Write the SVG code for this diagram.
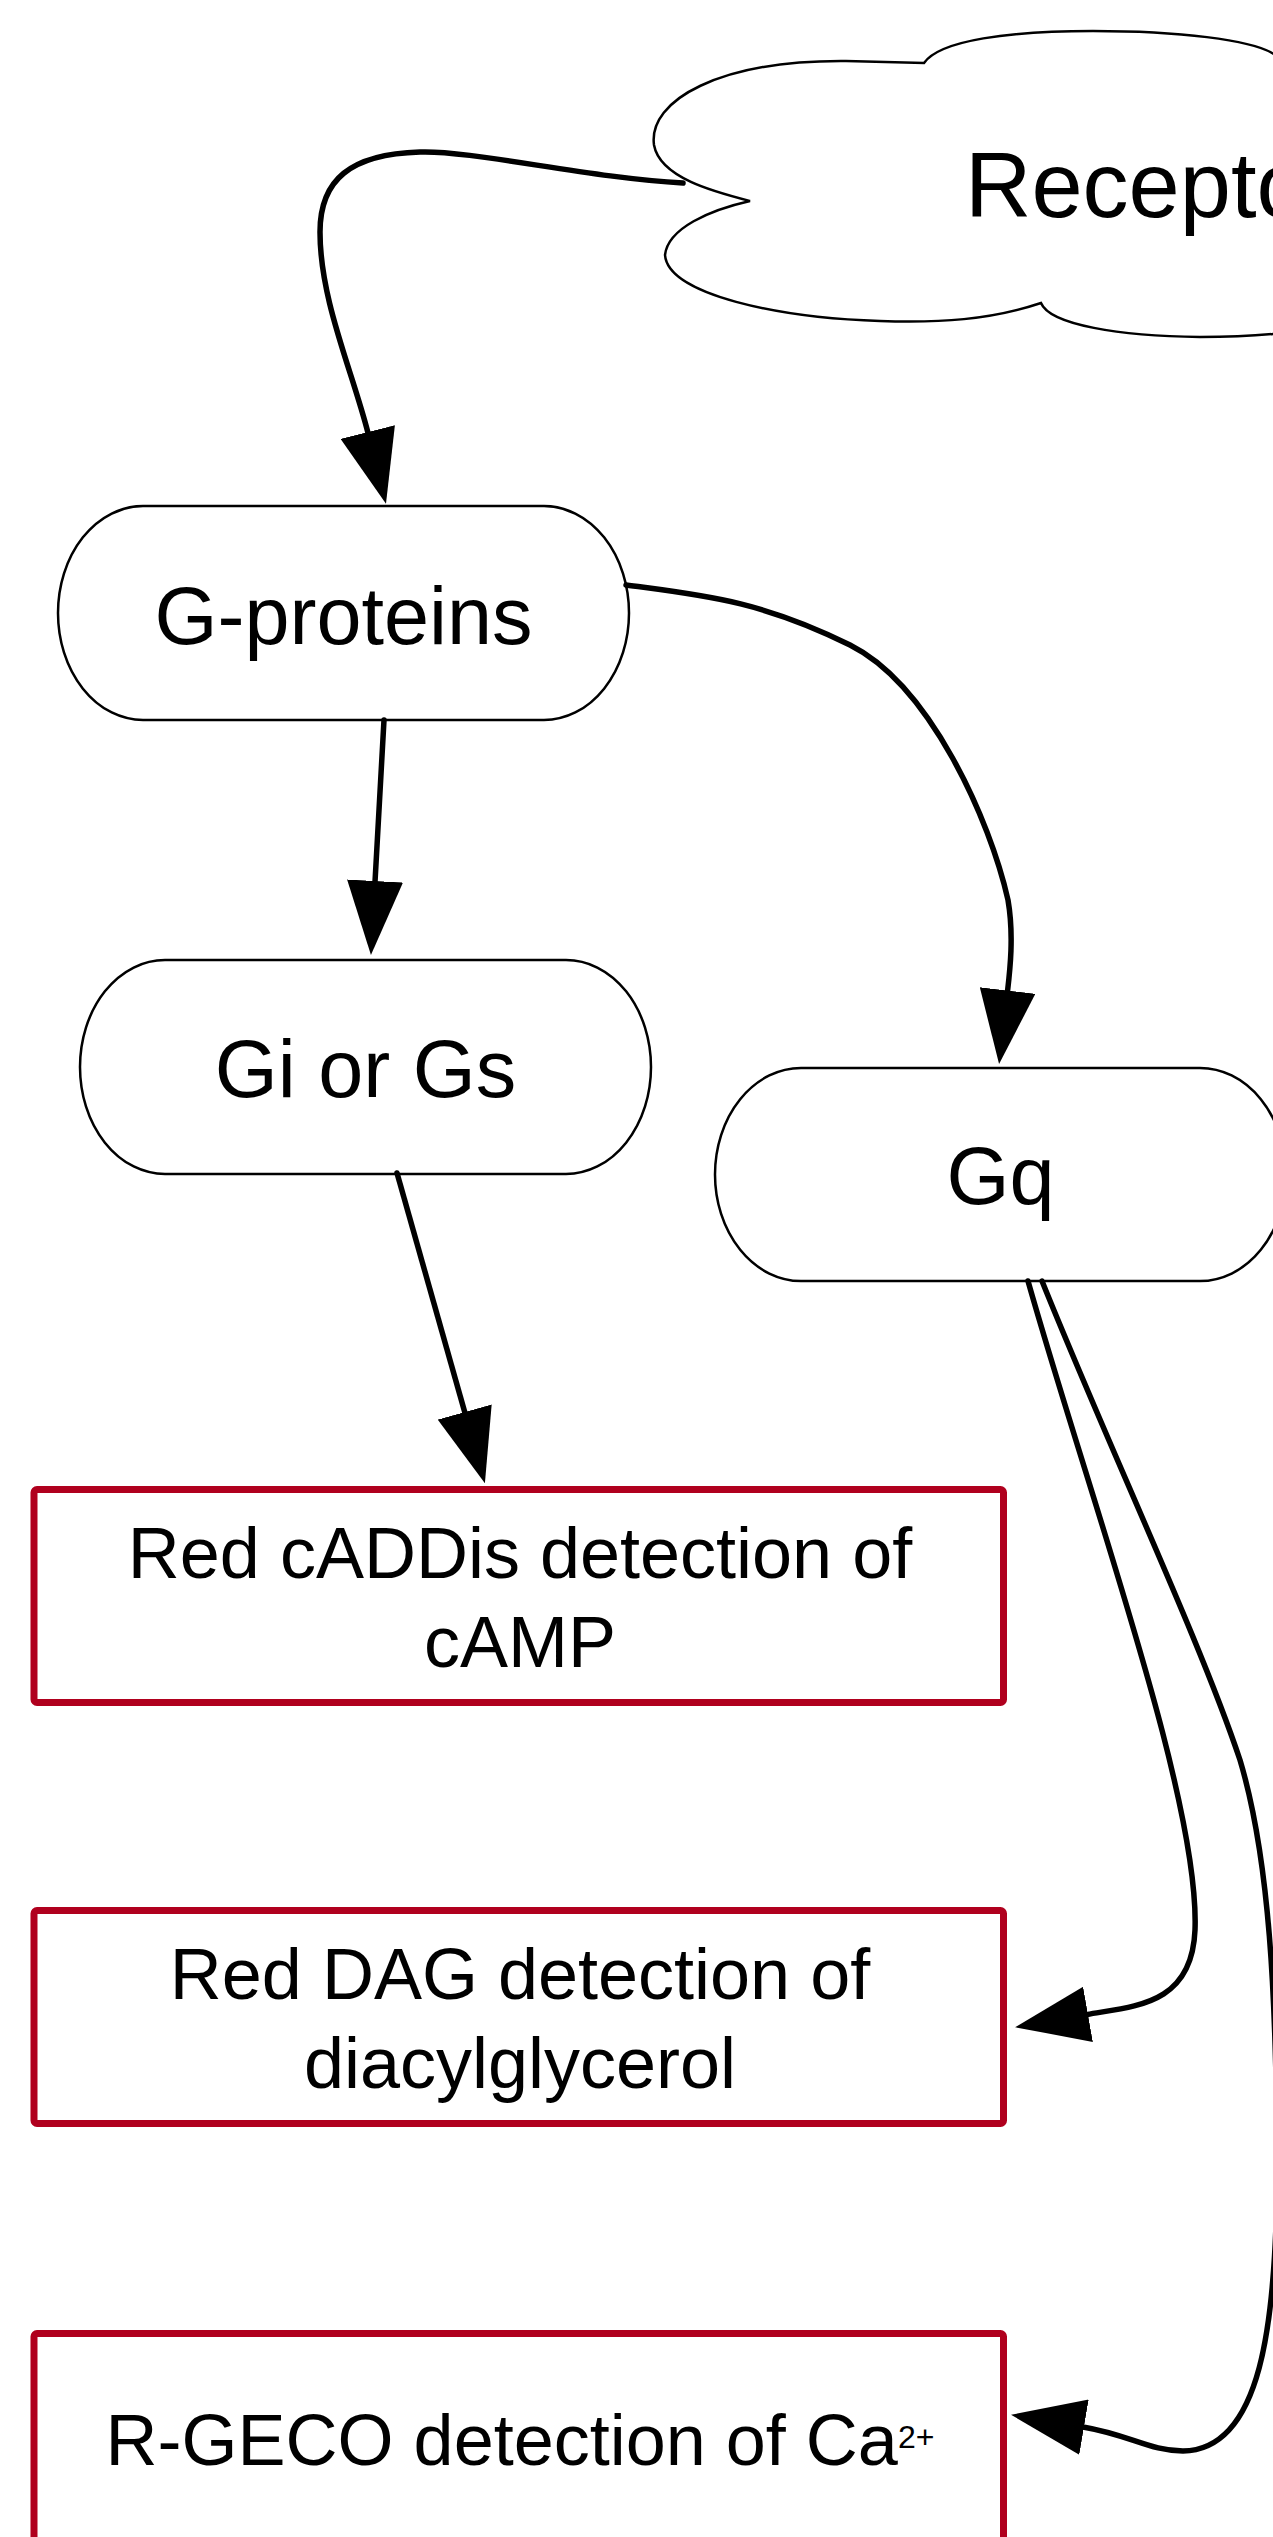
<svg xmlns="http://www.w3.org/2000/svg" width="1273" height="2537" viewBox="0 0 1273 2537">
  <style>
    .bg { fill: #ffffff; }
    .cloud { fill: #ffffff; stroke: #000000; stroke-width: 2.5; }
    .pill { fill: #ffffff; stroke: #000000; stroke-width: 2.5; }
    .box { fill: #ffffff; stroke: #B0001E; stroke-width: 7; }
    .conn { fill: none; stroke: #000000; stroke-width: 5.5; stroke-linecap: round; }
    .lbl { font-family: "Liberation Sans", Arial, Helvetica, sans-serif; fill: #000000; }
    .node-lbl { font-size: 81px; text-anchor: middle; }
    .box-lbl { font-size: 72px; text-anchor: middle; }
  </style>
  <defs>
    <marker id="arrow" viewBox="0 0 74 56" refX="1" refY="28" markerWidth="74" markerHeight="56" markerUnits="userSpaceOnUse" orient="auto">
      <path d="M0,0 L74,28 L0,56 Z" fill="#000000"/>
    </marker>
  </defs>
  <rect class="bg" x="0" y="0" width="1273" height="2537"/>

  <g id="node-receptor">
    <path class="cloud" d="M750,201 C715,192 660,178 654,145 C648,100 720,60 846,61 L924,63 C940,40 1010,31 1093,31 C1180,31 1250,40 1272,53 C1300,70 1320,90 1330,120 L1330,300 C1320,320 1300,332 1273,334 C1240,337 1220,337 1200,337 C1120,336 1050,325 1041,303 C990,320 940,323 880,321 C780,318 668,295 665,255 C668,228 710,210 750,201 Z"/>
    <text class="lbl" x="965" y="217" font-size="92">Receptor</text>
  </g>

  <g id="node-gproteins">
    <rect class="pill" x="58" y="506" width="571" height="214" rx="85" ry="107"/>
    <text class="lbl node-lbl" x="343.5" y="644">G-proteins</text>
  </g>

  <g id="node-gigs">
    <rect class="pill" x="80" y="960" width="571" height="214" rx="85" ry="107"/>
    <text class="lbl node-lbl" x="365.5" y="1097">Gi or Gs</text>
  </g>

  <g id="node-gq">
    <rect class="pill" x="715" y="1068" width="571" height="213" rx="86" ry="106.5"/>
    <text class="lbl node-lbl" x="1000.5" y="1204">Gq</text>
  </g>

  <g id="node-camp">
    <rect class="box" x="34" y="1489.5" width="969.5" height="213" rx="3" ry="3"/>
    <text class="lbl box-lbl" x="520" y="1578">Red cADDis detection of</text>
    <text class="lbl box-lbl" x="520" y="1667">cAMP</text>
  </g>

  <g id="node-dag">
    <rect class="box" x="34" y="1910.5" width="969.5" height="213" rx="3" ry="3"/>
    <text class="lbl box-lbl" x="520" y="1999">Red DAG detection of</text>
    <text class="lbl box-lbl" x="520" y="2088">diacylglycerol</text>
  </g>

  <g id="node-ca">
    <rect class="box" x="34" y="2333.5" width="969.5" height="213" rx="3" ry="3"/>
    <text class="lbl box-lbl" x="520" y="2465">R-GECO detection of Ca<tspan font-size="32" dy="-17">2+</tspan></text>
  </g>

  <g id="connectors">
    <path class="conn" marker-end="url(#arrow)" d="M683,183 C590,178 470,150 420,152 C350,154 320,180 320,232 C320,300 352,370 368,433"/>
    <path class="conn" marker-end="url(#arrow)" d="M384,720 L375,882"/>
    <path class="conn" marker-end="url(#arrow)" d="M626,585 C700,595 760,600 850,645 C930,685 990,820 1008,900 C1014,935 1010,970 1007.5,991.5"/>
    <path class="conn" marker-end="url(#arrow)" d="M397,1173 L465,1413"/>
    <path class="conn" marker-end="url(#arrow)" d="M1028,1281 C1090,1500 1200,1800 1195,1930 C1192,2005 1135,2006 1087,2014.5"/>
    <path class="conn" marker-end="url(#arrow)" d="M1042,1281 C1110,1450 1200,1640 1240,1760 C1270,1860 1276,2000 1277,2150 C1278,2330 1260,2450 1183,2451 C1150,2451 1130,2435 1083,2427"/>
  </g>
</svg>
